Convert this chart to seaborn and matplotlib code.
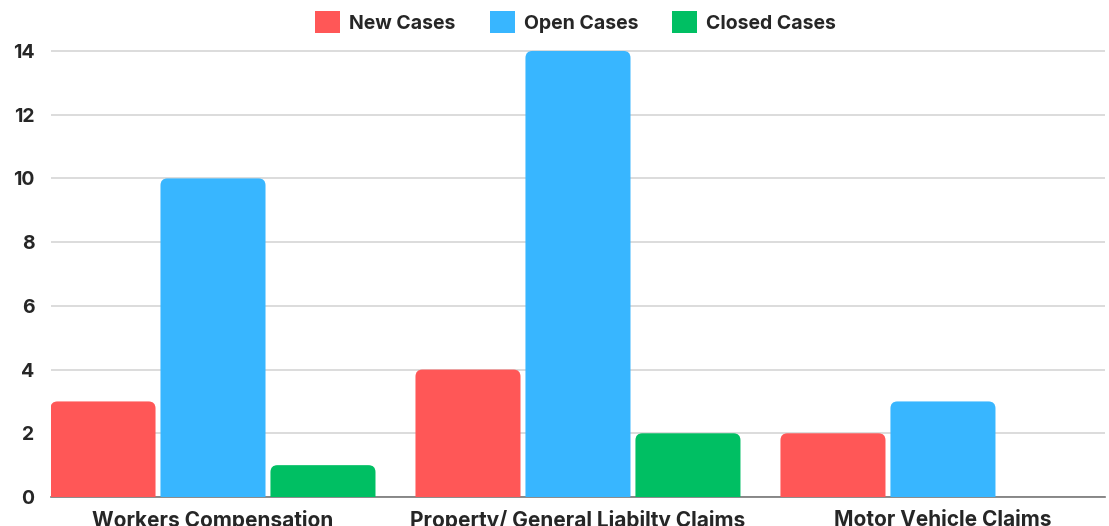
import pandas as pd
import numpy as np
import matplotlib.pyplot as plt
import seaborn as sns
from matplotlib.patches import FancyBboxPatch, Patch

categories = ['Workers Compensation', 'Property/ General Liabilty Claims', 'Motor Vehicle Claims']
series = ['New Cases', 'Open Cases', 'Closed Cases']
new_cases = [3, 4, 2]
open_cases = [10, 14, 3]
closed_cases = [1, 2, 0]
colors = ['#FF5757', '#38B6FF', '#00BF63']

rows = []
for name, vals in zip(series, [new_cases, open_cases, closed_cases]):
    for cat, v in zip(categories, vals):
        rows.append({'category': cat, 'series': name, 'value': v})
df = pd.DataFrame(rows)

sns.set_style('white')
plt.rcParams['font.family'] = ['Inter', 'DejaVu Sans']
plt.rcParams['font.weight'] = 'bold'

fig = plt.figure(figsize=(11.09, 5.26), dpi=100)
ax = fig.add_axes([0.046, 0.0551, 0.9504, 0.8662])

sns.barplot(data=df, x='category', y='value', hue='series', order=categories,
            hue_order=series, palette=colors, width=0.904, gap=0.045,
            saturation=1, ax=ax, legend=False)

ax.set_ylim(0, 14.3)
ax.set_xlim(-0.4438, 2.444)

# swap plain rectangles for bars with rounded tops
px_x = (ax.get_xlim()[1] - ax.get_xlim()[0]) / (1109 * 0.9504)
px_y = (ax.get_ylim()[1] - ax.get_ylim()[0]) / (526 * 0.8662)
for p in list(ax.patches):
    h = p.get_height()
    if h <= 0 or np.isnan(h):
        p.set_visible(False)
        continue
    x0, w = p.get_x(), p.get_width()
    fc = p.get_facecolor()
    rb = FancyBboxPatch((x0, -0.5), w, h + 0.5,
                        boxstyle=f"round,pad=0,rounding_size={7 * px_x}",
                        mutation_aspect=px_y / px_x, facecolor=fc,
                        edgecolor='none', zorder=3)
    ax.add_patch(rb)
    p.set_visible(False)

ax.set_yticks(range(0, 15, 2))
ax.yaxis.grid(True, color='#d6d6d6', linewidth=1.2)
ax.set_axisbelow(True)
for s in ['left', 'right', 'top']:
    ax.spines[s].set_visible(False)
ax.spines['bottom'].set_color('#777777')
ax.spines['bottom'].set_linewidth(1.2)
ax.tick_params(axis='y', length=0, pad=12, labelsize=14)
ax.tick_params(axis='x', length=0, pad=9, labelsize=15)
for t in ax.get_xticklabels() + ax.get_yticklabels():
    t.set_fontweight('bold')
ax.set_xlabel('')
ax.set_ylabel('')

handles = [Patch(facecolor=c, edgecolor='none') for c in colors]
fig.legend(handles, series, loc='center', bbox_to_anchor=(0.519, 0.958), ncol=3,
           frameon=False, handlelength=1.3, handleheight=1.3,
           handletextpad=0.45, columnspacing=1.75, prop={'weight': 'bold', 'size': 14})

fig.savefig('out.png', dpi=100, facecolor='white')
